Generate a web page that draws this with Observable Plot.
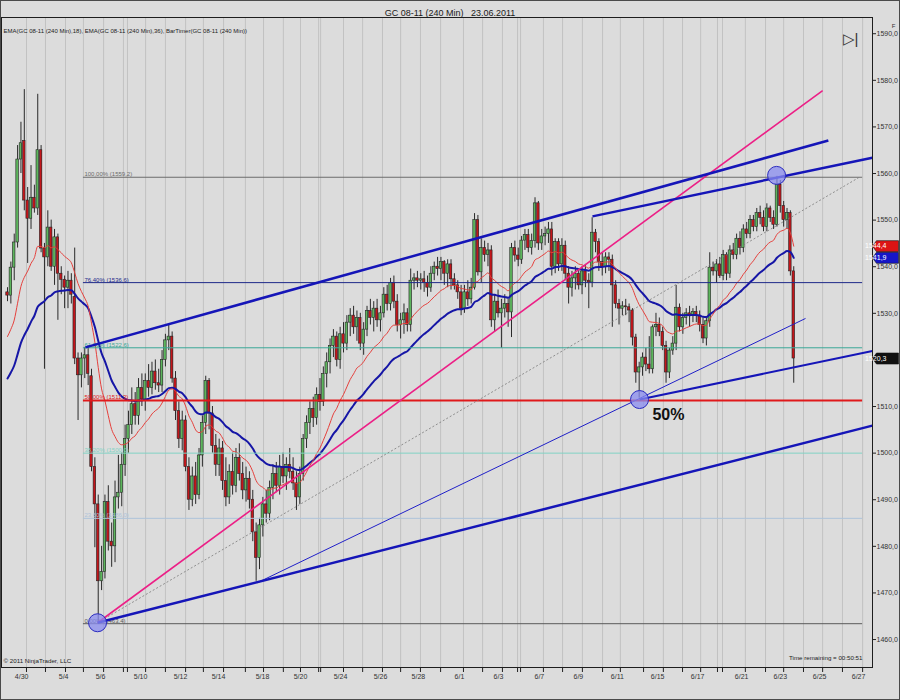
<!DOCTYPE html>
<html>
<head>
<meta charset="utf-8">
<script src="https://cdn.jsdelivr.net/npm/d3@7"></script>
<script src="https://cdn.jsdelivr.net/npm/@observablehq/plot@0.6"></script>
<style>
  html, body { margin: 0; padding: 0; background: #dcdcdc; }
  #wrap { position: relative; width: 900px; height: 700px; overflow: hidden; }
  #edge { position: absolute; left: 0; top: 0; width: 898px; height: 698px; border: 1px solid #4a4a4a; pointer-events: none; }
</style>
</head>
<body>
<div id="wrap"><div id="edge"></div></div>
<script>
// GC 08-11, 240-minute bars: [open, high, low, close]
const candlesEarlyMay = [
  [1534.5,1535.5,1532.5,1533.8],[1533.8,1541,1532,1539.8],[1539.8,1547,1537,1545.2],[1545.2,1566,1544,1563],
  [1563,1571,1560,1566.5],[1567,1578,1552,1554.2],[1554.2,1557,1540.7,1550.3],[1550.3,1561.7,1548,1554.8],
  [1554.8,1557.5,1551.5,1552.5],[1552.5,1577,1551,1565],[1565,1566,1543,1543.9],[1543.9,1545,1518,1542],
  [1542,1552,1540,1548.4],[1548.4,1550,1539,1540],[1540,1548,1536,1546.3],[1546.3,1547,1528.5,1538.5],
  [1538.5,1540,1534,1537.2],[1537.2,1538,1531,1535.5],[1535.5,1539,1531,1537],[1537,1538.5,1532,1534],
  [1533.5,1544,1519,1520.3],[1520.3,1521.5,1507,1516.7],[1516.7,1521.5,1514,1520.3],[1520.3,1522.7,1516,1521],
  [1521,1523,1514.5,1517],[1516.5,1518,1496,1497],[1497,1499,1479.7,1489],[1489,1491,1463.6,1472.5],
  [1472.5,1480,1470.5,1474.5],[1474.5,1491,1473,1489.5],[1489.5,1493,1479,1481],[1481,1485,1475.5,1480],
  [1480,1494,1476.5,1490.5],[1490.5,1499.5,1488,1491.5],[1491.5,1500,1488.5,1497.5],[1497.5,1506,1495,1503],
  [1503,1509,1500,1506],[1506,1514,1504,1510.5],[1510.5,1513,1506,1508],[1508,1516,1506,1514],
  [1514,1517,1510,1511.5],[1511.5,1517,1509,1515.5],[1515.5,1519,1512,1514],[1514,1519.5,1512.5,1517.5],
  [1517.5,1520,1513.5,1515],[1515,1518,1513,1514.5],[1514.5,1522,1513,1520],[1520,1525.5,1518.5,1524.2],
  [1524.2,1527.4,1522,1525],[1525,1526,1515,1516],[1516,1517.5,1507,1509],[1509,1511,1501,1503],
  [1503,1509,1500.5,1507],[1507,1508,1496,1497],[1497,1499,1487.7,1490],[1490,1497,1488.5,1495],
  [1495,1498,1489,1491],[1491,1501,1490,1499.5],[1499.5,1508,1497,1506.5],[1506.5,1516.5,1504,1515.5]
];
const candlesMidMay = [
  [1515.5,1516,1505,1508.5],[1508.5,1510,1500,1501.5],[1501.5,1504,1495,1497.5],[1497.5,1503,1495,1501],
  [1501,1502.5,1492,1494],[1494,1499,1488.5,1490.5],[1490.5,1497.5,1489,1496],[1496,1500,1491,1493],
  [1493,1501,1491.5,1499],[1499,1502,1494,1495.5],[1495.5,1498,1490,1492],[1492,1497,1489.5,1494.5],
  [1494.5,1496,1488,1490],[1490,1492,1481,1483],[1483,1485,1472.5,1477.5],[1477.5,1486,1475,1484.5],
  [1484.5,1490.5,1482,1489],[1489,1492,1485,1487],[1487,1494,1485.5,1492.5],[1492.5,1497.5,1490,1495.5],
  [1495.5,1498,1491.5,1493],[1493,1499.5,1491,1497],[1497,1500,1493.5,1495],[1495,1499,1492,1497.5],
  [1497.5,1501,1494.5,1496],[1496,1499,1492,1493.5],[1493.5,1496,1487.7,1490.5],[1490.5,1497,1489,1495.5],
  [1495.5,1504,1494,1503],[1503,1508,1501,1506.5],[1506.5,1511,1504,1509.5],[1509.5,1512,1505.5,1507.5],
  [1507.5,1514,1506,1512.5],[1512.5,1516,1509,1511],[1511,1518.5,1510,1517],[1517,1521.5,1514,1519.5],
  [1519.5,1524.5,1517,1523],[1523,1526.5,1520.5,1525],[1525,1526,1518.5,1520],[1520,1527,1518,1525.5],
  [1525.5,1528,1521.5,1523.5],[1523.5,1529.5,1522,1528],[1528,1531,1525,1529.5],[1529.5,1531.5,1525.5,1527],
  [1527,1530.5,1524,1529],[1529,1530,1522,1523.5],[1523.5,1528,1521,1526.5],[1526.5,1531.5,1525,1530.5],
  [1530.5,1533,1527.5,1529],[1529,1532.5,1526,1531],[1531,1533,1527,1528.5],[1528.5,1531.5,1526,1530],
  [1530,1535.5,1529,1534],[1534,1536,1530.5,1532],[1532,1537.5,1530.5,1536.5],[1536.5,1538,1531,1532.5],
  [1532.5,1534,1526,1527.5],[1527.5,1530,1524.5,1528.5],[1528.5,1532,1525.5,1530],[1530,1531,1526,1527.5]
];
const candlesEarlyJune = [
  [1527.5,1539.5,1526,1537],[1537,1538.5,1535,1537.5],[1537.5,1539,1535.5,1537],[1537,1538.5,1535,1537.3],
  [1537.3,1539,1534.5,1536.5],[1536.5,1538,1533.5,1535.5],[1535.5,1540,1534.5,1538.5],[1538.5,1541,1537,1540],
  [1540,1542,1538,1539.5],[1539.5,1542,1537,1541],[1541,1541.3,1536,1538.5],[1538.5,1541.5,1535.5,1540.5],
  [1540.5,1541.5,1535,1537.3],[1537.3,1538.5,1535,1536],[1536,1537,1533,1534.5],[1534.5,1536,1529.5,1531],
  [1531,1536,1530,1534.5],[1534.5,1537,1531.5,1533],[1533,1537.5,1532,1535.5],[1535.5,1551.4,1535,1550],
  [1550,1551,1538,1538.8],[1538.8,1546,1536.5,1544],[1544,1545.5,1541,1542.5],[1542.5,1545,1540,1543.5],
  [1543.5,1544.5,1527,1528.5],[1528.5,1534,1526,1532.5],[1532.5,1535,1529,1530],[1530,1533,1522.5,1531],
  [1531,1534,1529,1532],[1532,1533,1527,1530.2],[1530.2,1545,1524.8,1544],[1544,1545.5,1541,1542.4],
  [1542.4,1544,1540,1541.5],[1541.5,1546.5,1540.5,1545.6],[1545.6,1548,1543.5,1546.8],[1546.8,1548,1543,1544],
  [1544,1547,1542.5,1545.5],[1545.5,1554.8,1544,1553.6],[1553.6,1554,1543.5,1545],[1545,1548,1543.5,1546.5],
  [1546.5,1548.5,1544.5,1547],[1547,1549.5,1545,1548],[1548,1549.5,1538,1540],[1540,1546,1538.5,1545.3],
  [1545.3,1546,1539,1540.5],[1540.5,1546,1539,1544.5],[1544.5,1545.5,1537,1538.5],[1538.5,1540,1532,1535.5],
  [1535.5,1539,1533.5,1537.5],[1537.5,1540,1535,1538.5],[1538.5,1539.5,1535,1536],[1536,1540,1534,1539],
  [1539,1540.5,1535.5,1537],[1537,1538.5,1531,1536.6],[1536.6,1550.5,1535.5,1547.3],[1547.3,1548,1543,1545.3],
  [1545.3,1546,1539,1541],[1541,1543,1538,1540],[1540,1543,1538.5,1542],[1542,1543,1539,1541.5]
];
const candlesLateJune = [
  [1541.5,1542.5,1527,1536],[1536,1537,1531,1532],[1532,1533,1527.5,1531],[1531,1532.5,1529.5,1531.5],
  [1531.5,1533,1529.5,1531.3],[1531.3,1532,1528,1530.6],[1530.6,1531,1523,1524.8],[1524.8,1525.5,1515,1517.3],
  [1517.3,1519.5,1511.8,1518.4],[1518.4,1521.5,1516.5,1520.5],[1520.5,1522.5,1517.5,1519],[1519,1525,1517,1518],
  [1518,1527.5,1517,1527],[1527,1530,1525,1527.5],[1527.5,1529,1525,1526],[1526,1527,1522,1523],
  [1523,1524,1515,1517.3],[1517.3,1522.5,1516,1522],[1522,1525,1521,1523.5],[1523.5,1536,1522,1531.2],
  [1531.2,1532,1526,1527],[1527,1530,1525.5,1529],[1529,1531,1527.5,1530],[1530,1531.5,1527,1529.5],
  [1529.5,1531,1528,1530.3],[1530.3,1531.5,1528,1529.5],[1529.5,1530.5,1526,1527.5],[1527.5,1529,1523.5,1524.6],
  [1524.6,1529,1523,1528.3],[1528.3,1543,1527,1539.8],[1539.8,1541,1538,1539],[1539,1541.5,1536.5,1540.5],
  [1540.5,1542,1537.5,1538],[1538,1543.5,1537,1542.5],[1542.5,1543,1537,1538.5],[1538.5,1544.5,1537.5,1543.5],
  [1543.5,1545,1541.5,1542.5],[1542.5,1547,1541.5,1546],[1546,1547.5,1542.5,1544],[1544,1549,1543,1548],
  [1548,1549.5,1546,1547],[1547,1551,1546,1550],[1550,1551,1547.5,1548.5],[1548.5,1552.5,1547.5,1551.5],
  [1551.5,1553,1549,1550.5],[1550.5,1552,1547.5,1548.5],[1548.5,1553.5,1547.5,1552.5],[1552.5,1553,1549.5,1550.5],
  [1550.5,1552,1548,1549],[1549,1559.4,1548.5,1557.6],[1557.6,1558.5,1551.5,1553],[1553,1554,1548.5,1550],
  [1550,1552.5,1548,1551.5],[1551.5,1552,1538,1539],[1539,1540,1515,1520.3]
];

// EMA levels carried in from the bars before the first one shown
const ema18Start = 1524;
const ema36Start = 1515;

// session separators and date ticks, in bar positions
const dayBreaks = [5.65,11.3,17.26,22.6,28.6,34.5,35.7,41.1,47.0,53.0,58.3,64.3,70.8,76.2,82.1,87.2,92.6,93.2,
  100,105.7,111.6,117,122.9,128.9,135.7,141.4,147.3,151.8,152.7,159.5,165.2,171.1,177.1,182.4,189.3,195.2,
  200.9,206.3,211.3,212.8,219.6,225.6,231,236.9,242.6,248.5,254.5];
const dateTickBars = [4.2,16.7,27.7,39.6,51.5,62.8,75.9,87.2,99.1,111,122.3,134.5,146.1,158.3,169.9,181.5,
  193.5,205.4,218.5,230,241.7,253.3];
const dateTickLabels = ["4/30","5/4","5/6","5/10","5/12","5/14","5/18","5/20","5/24","5/26","5/28","6/1","6/3",
  "6/7","6/9","6/11","6/15","6/17","6/21","6/23","6/25","6/27"];
const priceTicks = [1460,1470,1480,1490,1500,1510,1520,1530,1540,1550,1560,1570,1580,1590];

// Fibonacci retracement tool
const fibLow = 1463.4, fibHigh = 1559.2;
const fibStartBar = 22.6, fibEndBar = 254.5;
const fibRatios = [1, 0.764, 0.618, 0.5, 0.382, 0.236, 0];
const fibColors = ["#6c6c6c", "#1f2a8a", "#3aa797", "#e0191b", "#82d2c4", "#aec3da", "#5a5a5a"];
const fibWidths = [1, 1, 1, 2, 1, 1, 1];

// hand-drawn trend lines: [bar1, price1, bar2, price2]
const channelLines = [
  [23.2, 1522.7, 244.3, 1567.1],
  [174.1, 1550.8, 257.4, 1563.4],
  [26.8, 1463.6, 257.4, 1505.9]
];
const supportLine = [188.1, 1511.5, 257.4, 1521.9];
const thinLine = [74.4, 1472.2, 237.5, 1528.9];
const pinkLine = [26.8, 1463.6, 242.6, 1577.8];
const fibAnchorLine = [26.8, 1463.6, 253.3, 1559.1];

// circled pivots
const pivotBars = [26.8, 188.1, 228.9];
const pivotPrices = [1463.6, 1511.5, 1559.6];

const callout = {text: "50%", bar: 196.7, price: 1508.3};

// ---- derived tables ----
const bars = [...candlesEarlyMay, ...candlesMidMay, ...candlesEarlyJune, ...candlesLateJune]
  .map((d, i) => ({i, o: d[0], h: d[1], l: d[2], c: d[3]}));

const a18 = 2 / 19, a36 = 2 / 37;
let e18 = ema18Start, e36 = ema36Start;
const ema = bars.map(b => {
  e18 += a18 * (b.c - e18);
  e36 += a36 * (b.c - e36);
  return {i: b.i, e18, e36};
});

const fmt1 = v => v.toFixed(1).replace(".", ",");
const fibLevels = fibRatios.map((r, k) => {
  const price = fibLow + r * (fibHigh - fibLow);
  return {
    price, color: fibColors[k], w: fibWidths[k],
    label: `${(r * 100).toFixed(2).replace(".", ",")}% (${fmt1(price)})`
  };
});
const labelByBar = new Map(dateTickBars.map((b, k) => [b, dateTickLabels[k]]));
const pivots = pivotBars.map((b, k) => ({b, p: pivotPrices[k]}));
const seg = d => ({x1: d[0], y1: d[1], x2: d[2], y2: d[3]});

const lastEma = ema[ema.length - 1];
const lastClose = bars[bars.length - 1].c;
const tags = [
  {v: lastEma.e18, fill: "#dc1414"},
  {v: lastEma.e36, fill: "#1616c8"},
  {v: lastClose, fill: "#111111"}
];
// a price label fully hidden behind the last-price tag is left unlabelled
const priceLabel = d => (Math.abs(d - lastClose) < 1 ? "" : fmt1(d));
const tagSymbol = {
  draw(ctx) {
    ctx.moveTo(-13, 0); ctx.lineTo(-9, -5.5); ctx.lineTo(13, -5.5);
    ctx.lineTo(13, 5.5); ctx.lineTo(-9, 5.5); ctx.closePath();
  }
};

const chart = Plot.plot({
  width: 900, height: 700,
  marginTop: 17, marginRight: 28, marginBottom: 33, marginLeft: 1,
  style: {background: "#dcdcdc", fontFamily: "'Liberation Sans', Arial, sans-serif", fontSize: "7px", color: "#333"},
  x: {domain: [-1.786, 257.44], label: null},
  y: {domain: [1454, 1593.48], label: null},
  color: {type: "identity"},
  marks: [
    Plot.ruleX(dayBreaks, {stroke: "#c2c2c2", strokeWidth: 1}),

    // candles
    Plot.ruleX(bars, {x: "i", y1: "l", y2: "h", stroke: "#2a2a2a", strokeWidth: 1}),
    Plot.rect(bars, {
      x1: d => d.i - 0.37, x2: d => d.i + 0.37,
      y1: "o", y2: d => (Math.abs(d.c - d.o) < 0.2 ? d.o + 0.2 : d.c),
      fill: d => (d.c >= d.o ? "#5db55d" : "#c3161b"),
      stroke: "#242424", strokeWidth: 0.6
    }),

    // moving averages
    Plot.line(ema, {x: "i", y: "e36", stroke: "#1616a6", strokeWidth: 2, curve: "monotone-x"}),
    Plot.line(ema, {x: "i", y: "e18", stroke: "#e5403c", strokeWidth: 1, curve: "monotone-x"}),

    // Fibonacci levels
    Plot.ruleY(fibLevels, {y: "price", x1: fibStartBar, x2: fibEndBar, stroke: "color", strokeWidth: "w"}),
    Plot.text(fibLevels, {
      x: fibStartBar, y: "price", text: "label", fill: "color",
      textAnchor: "start", lineAnchor: "bottom", dx: 1, dy: -1, fontSize: 6
    }),

    // trend lines
    Plot.link([fibAnchorLine].map(seg), {x1: "x1", y1: "y1", x2: "x2", y2: "y2", stroke: "#7a7a7a", strokeWidth: 0.8, strokeDasharray: "2,2"}),
    Plot.link([thinLine].map(seg), {x1: "x1", y1: "y1", x2: "x2", y2: "y2", stroke: "#2020c8", strokeWidth: 1}),
    Plot.link([pinkLine].map(seg), {x1: "x1", y1: "y1", x2: "x2", y2: "y2", stroke: "#ec1f86", strokeWidth: 1.6}),
    Plot.link(channelLines.map(seg), {x1: "x1", y1: "y1", x2: "x2", y2: "y2", stroke: "#1515b8", strokeWidth: 2.5}),
    Plot.link([supportLine].map(seg), {x1: "x1", y1: "y1", x2: "x2", y2: "y2", stroke: "#1515b8", strokeWidth: 2}),

    Plot.dot(pivots, {x: "b", y: "p", r: 9, fill: "#8a8cf0", fillOpacity: 0.75, stroke: "#2b2bbf", strokeWidth: 1}),
    Plot.text([callout], {x: "bar", y: "price", text: "text", fontSize: 16, fontWeight: "bold", fill: "#111"}),

    // axes
    Plot.axisX({ticks: dayBreaks, tickSize: 5, tickFormat: () => "", stroke: "#222", label: null}),
    Plot.axisX({ticks: dateTickBars, tickSize: 0, tickPadding: 7, tickFormat: d => labelByBar.get(d), fill: "#333", fontSize: 7, label: null}),
    Plot.axisY({anchor: "right", ticks: priceTicks, tickSize: 3, tickPadding: 1, tickFormat: priceLabel, stroke: "#222", fill: "#333", fontSize: 7, label: null}),
    Plot.frame({stroke: "#1e1e1e"}),

    // price tags
    Plot.dot(tags, {y: "v", frameAnchor: "right", dx: 13, symbol: tagSymbol, r: 5, fill: "fill", stroke: "#111", strokeWidth: 0.6}),
    Plot.text(tags, {y: "v", frameAnchor: "right", dx: 14, text: d => fmt1(d.v), fill: "white", fontSize: 7}),

    // titles and notes
    Plot.text(["GC 08-11 (240 Min)\u00a0\u00a0 23.06.2011"], {frameAnchor: "top", dx: 13, dy: -8, fontSize: 9, fill: "#1a1a1a"}),
    Plot.text(["EMA(GC 08-11 (240 Min),18), EMA(GC 08-11 (240 Min),36), BarTimer(GC 08-11 (240 Min))"],
      {frameAnchor: "top-left", dx: 2, dy: 11, textAnchor: "start", fontSize: 6, fill: "#222"}),
    Plot.text(["\u00a9 2011 NinjaTrader, LLC"], {frameAnchor: "bottom-left", dx: 2, dy: -5, textAnchor: "start", fontSize: 6.2, fill: "#222"}),
    Plot.text(["Time remaining = 00:50:51"], {frameAnchor: "bottom-right", dx: -10, dy: -8, textAnchor: "end", fontSize: 6.2, fill: "#222"}),
    Plot.text(["\u25b7|"], {frameAnchor: "top-right", dx: -14, dy: 16, fontSize: 15, fill: "#333"}),
    Plot.text(["F"], {frameAnchor: "top-right", dx: 23, dy: 6, fontSize: 6, fill: "#333"})
  ]
});

document.getElementById("wrap").prepend(chart);
</script>
</body>
</html>
